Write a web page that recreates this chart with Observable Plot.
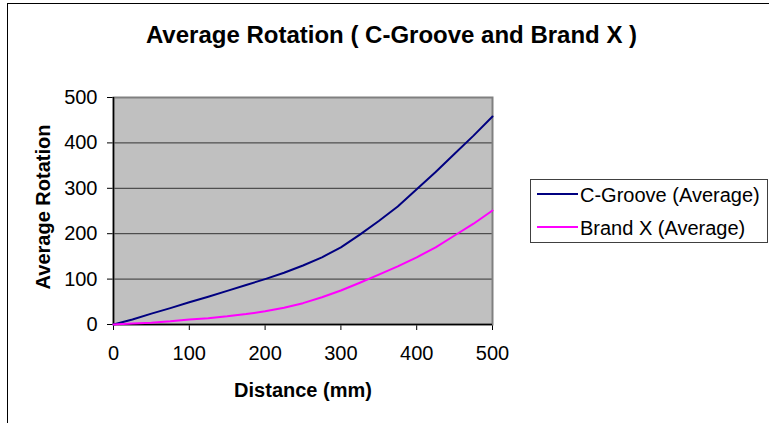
<!DOCTYPE html>
<html><head><meta charset="utf-8">
<script src="https://cdn.jsdelivr.net/npm/d3@7"></script>
<script src="https://cdn.jsdelivr.net/npm/@observablehq/plot@0.6"></script>
<style>
html,body{margin:0;padding:0;background:#fff;overflow:hidden;}
#wrap{position:relative;width:769px;height:423px;font-family:"Liberation Sans",Arial,sans-serif;overflow:hidden;}
#border{position:absolute;left:7px;top:3px;width:800px;height:500px;border-left:1.5px solid #000;border-top:1.5px solid #000;}
#chart{position:absolute;left:0;top:0;}
#legend{position:absolute;left:530px;top:179px;width:236px;height:62px;border:1px solid #404040;background:#fff;}
.item{position:absolute;left:0;height:33px;width:236px;}
.swatch{position:absolute;left:6px;width:41px;height:2px;}
.lab{position:absolute;left:49px;font-size:20px;line-height:20px;color:#000;white-space:nowrap;}
</style></head>
<body>
<div id="wrap"><div id="border"></div><div id="chart"></div><div id="legend"></div></div>
<script>
const distance = [0,25,50,75,100,125,150,175,200,225,250,275,300,325,350,375,400,425,450,475,500];
const cGroove  = [0,11,24,36,49,61,74,87,100,114,130,148,170,198,228,260,298,336,376,416,458];
const brandX   = [0,2,4,7,11,14,18,23,29,37,47,60,75,92,110,128,148,170,196,222,251];
const seriesNames = ["C-Groove (Average)", "Brand X (Average)"];
const seriesColors = ["#000080", "#FF00FF"];
const xTicks = [0,100,200,300,400,500];
const yTicks = [0,100,200,300,400,500];
const titleText = "Average Rotation ( C-Groove and Brand X )";
const xTitle = "Distance (mm)";
const yTitle = "Average Rotation";

const rows = [];
distance.forEach((d,i)=>{
  rows.push({distance:d, value:cGroove[i], series:seriesNames[0]});
  rows.push({distance:d, value:brandX[i], series:seriesNames[1]});
});

const chart = Plot.plot({
  width:769, height:423,
  marginTop:97, marginRight:277, marginBottom:99, marginLeft:113,
  style:{background:"transparent", fontFamily:"'Liberation Sans',Arial,sans-serif", fontSize:"20px", color:"#000", overflow:"visible"},
  x:{domain:[0,500], ticks:xTicks, tickSize:6, tickPadding:15, label:null},
  y:{domain:[0,500], ticks:yTicks, tickSize:6, tickPadding:10, label:null},
  color:{domain:seriesNames, range:seriesColors},
  marks:[
    Plot.frame({fill:"#c0c0c0"}),
    Plot.ruleY(yTicks.filter(t=>t>0 && t<500), {stroke:"#333", strokeWidth:1}),
    Plot.frame({stroke:"#808080", strokeWidth:2}),
    Plot.ruleX([0], {stroke:"#000", strokeWidth:1.5}),
    Plot.ruleY([0], {stroke:"#000", strokeWidth:1.5}),
    Plot.line(rows, {x:"distance", y:"value", z:"series", stroke:"series", strokeWidth:2}),
    Plot.text([titleText], {frameAnchor:"top", dx:88.5, dy:-55, lineAnchor:"bottom", textAnchor:"middle", fontSize:24, fontWeight:"bold", fill:"#000"}),
    Plot.text([xTitle], {frameAnchor:"bottom", dy:72, lineAnchor:"bottom", textAnchor:"middle", fontSize:20, fontWeight:"bold", fill:"#000"}),
    Plot.text([yTitle], {frameAnchor:"left", dx:-70, dy:-4, rotate:-90, lineAnchor:"middle", textAnchor:"middle", fontSize:20, fontWeight:"bold", fill:"#000"})
  ]
});
document.getElementById("chart").appendChild(chart);

const legend = document.getElementById("legend");
seriesNames.forEach((name,i)=>{
  const item = document.createElement("div");
  item.className = "item";
  item.style.top = (i*33) + "px";
  const sw = document.createElement("div");
  sw.className = "swatch";
  sw.style.background = seriesColors[i];
  sw.style.top = "13px";
  const lab = document.createElement("div");
  lab.className = "lab";
  lab.style.top = "5px";
  lab.textContent = name;
  item.appendChild(sw); item.appendChild(lab);
  legend.appendChild(item);
});
</script>
</body></html>
